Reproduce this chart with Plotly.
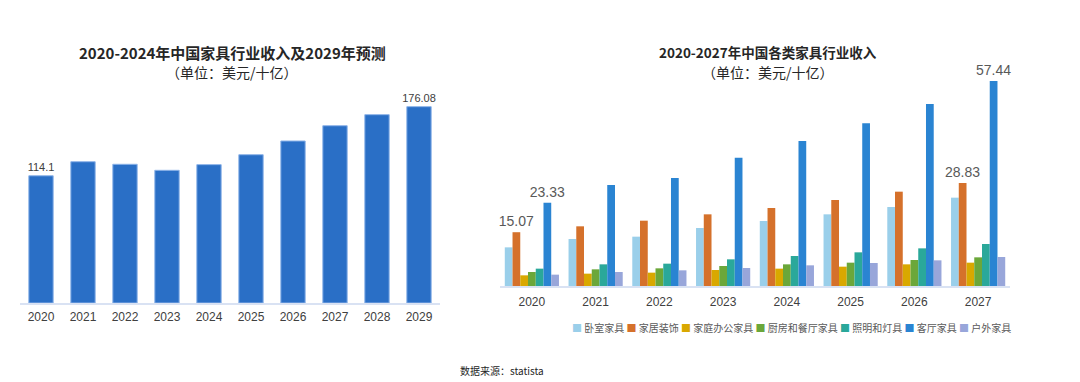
import plotly.graph_objects as go

# Left chart data
years_total = ["2020", "2021", "2022", "2023", "2024", "2025", "2026", "2027", "2028", "2029"]
revenue_total = [114.1, 126.7, 124.4, 119.0, 124.1, 133.0, 145.3, 159.0, 168.9, 176.08]

# Right chart data
years_cat = ["2020", "2021", "2022", "2023", "2024", "2025", "2026", "2027"]
bedroom = [10.83, 13.17, 13.82, 16.25, 18.21, 20.08, 22.13, 24.75]
decor = [15.07, 16.72, 18.30, 20.08, 21.85, 24.10, 26.43, 28.83]
home_office = [2.99, 3.46, 3.74, 4.48, 4.86, 5.42, 6.07, 6.54]
kitchen = [3.92, 4.67, 4.95, 5.60, 6.07, 6.54, 7.28, 8.03]
lighting = [4.86, 6.07, 6.26, 7.47, 8.41, 9.43, 10.55, 11.77]
living = [23.33, 28.30, 30.26, 35.96, 40.63, 45.58, 51.00, 57.44]
outdoor = [3.18, 3.92, 4.39, 5.04, 5.79, 6.44, 7.19, 8.13]

series_names = ["卧室家具", "家居装饰", "家庭办公家具", "厨房和餐厅家具", "照明和灯具", "客厅家具", "户外家具"]
series_values = [bedroom, decor, home_office, kitchen, lighting, living, outdoor]
series_colors = ["#9ACFEA", "#D5712B", "#D9A800", "#6BA73A", "#2AA89A", "#2A84D2", "#98A6DA"]

# page body has an 8px margin, so the figure is drawn 8px in from the window edge
OFF = 8
W, H = 1080 - OFF, 382 - OFF
FONT = "Noto Sans CJK SC, Noto Sans, sans-serif"


def px(x):
    return (x - OFF) / W


def py(y):
    return 1 - (y - OFF) / H


fig = go.Figure()

# Left chart
left_text = [""] * len(revenue_total)
left_text[0] = f"{revenue_total[0]:g}"
left_text[-1] = f"{revenue_total[-1]:g}"
fig.add_trace(go.Bar(
    x=years_total, y=revenue_total, xaxis="x", yaxis="y",
    marker=dict(color="#2A6FC6", line=dict(color="#8DB3E8", width=1)),
    width=0.58,
    text=left_text, textposition="outside", cliponaxis=False, constraintext="none",
    textfont=dict(family="Liberation Sans, sans-serif", size=11, color="#404040"),
    showlegend=False,
))

# Right chart
label_map = {("家居装饰", 0), ("客厅家具", 0), ("家居装饰", 7), ("客厅家具", 7)}
n = len(series_names)
group_w = 0.85
for i, (name, vals, col) in enumerate(zip(series_names, series_values, series_colors)):
    txt = [f"{v:.2f}" if (name, i2) in label_map else "" for i2, v in enumerate(vals)]
    fig.add_trace(go.Bar(
        x=years_cat, y=vals, name=name, xaxis="x2", yaxis="y2",
        marker=dict(color=col, line=dict(width=0)),
        width=group_w / n, offset=-group_w / 2 + i * group_w / n,
        text=txt, textposition="outside", cliponaxis=False, constraintext="none",
        textfont=dict(family="Liberation Sans, Arial, sans-serif", size=14, color="#595959"),
        showlegend=False,
    ))

tickfont = dict(family="Liberation Sans, sans-serif", size=12, color="#404040")
fig.update_layout(
    width=W, height=H,
    margin=dict(l=0, r=0, t=0, b=0, autoexpand=False),
    paper_bgcolor="white", plot_bgcolor="white",
    barmode="group",
    font=dict(family=FONT),
    showlegend=False,
    xaxis=dict(domain=[px(20), px(440)], anchor="y", showline=True, linecolor="#D9E2F3",
               linewidth=1.5, ticks="", showgrid=False, automargin=False, tickfont=tickfont,
               ticklabelstandoff=2),
    yaxis=dict(domain=[py(303), py(80)], range=[0, 200], visible=False, showgrid=False),
    xaxis2=dict(domain=[px(500), px(1010)], anchor="y2", showline=True, linecolor="#D9E2F3",
                linewidth=1.5, ticks="", showgrid=False, automargin=False, tickfont=tickfont,
                ticklabelstandoff=4),
    yaxis2=dict(domain=[py(286), py(60)], range=[0, 63.32], visible=False, showgrid=False),
)

# Legend row for the right chart
legend_parts = []
for name, col in zip(series_names, series_colors):
    legend_parts.append(f"<span style='color:{col}'>■</span> {name}")
legend_text = " ".join(legend_parts)

annotations = [
    dict(text="<b>2020-2024年中国家具行业收入及2029年预测</b>", x=px(232), y=py(52),
         xanchor="center", yanchor="middle", xref="paper", yref="paper", showarrow=False,
         font=dict(size=15, color="#262626", family=FONT)),
    dict(text="（单位：美元/十亿）", x=px(232), y=py(72), xanchor="center", yanchor="middle",
         xref="paper", yref="paper", showarrow=False,
         font=dict(size=14, color="#262626", family=FONT)),
    dict(text="<b>2020-2027年中国各类家具行业收入</b>", x=px(768), y=py(52),
         xanchor="center", yanchor="middle", xref="paper", yref="paper", showarrow=False,
         font=dict(size=13.5, color="#262626", family=FONT)),
    dict(text="（单位：美元/十亿）", x=px(768), y=py(72), xanchor="center", yanchor="middle",
         xref="paper", yref="paper", showarrow=False,
         font=dict(size=14, color="#262626", family=FONT)),
    dict(text=legend_text, x=px(791), y=py(327), xanchor="center", yanchor="middle",
         xref="paper", yref="paper", showarrow=False,
         font=dict(size=10, color="#595959", family=FONT)),
    dict(text="数据来源：statista", x=px(502), y=py(370), xanchor="center", yanchor="middle",
         xref="paper", yref="paper", showarrow=False,
         font=dict(size=10, color="#262626", family=FONT)),
]
fig.update_layout(annotations=annotations)

fig.write_html("out.html")
